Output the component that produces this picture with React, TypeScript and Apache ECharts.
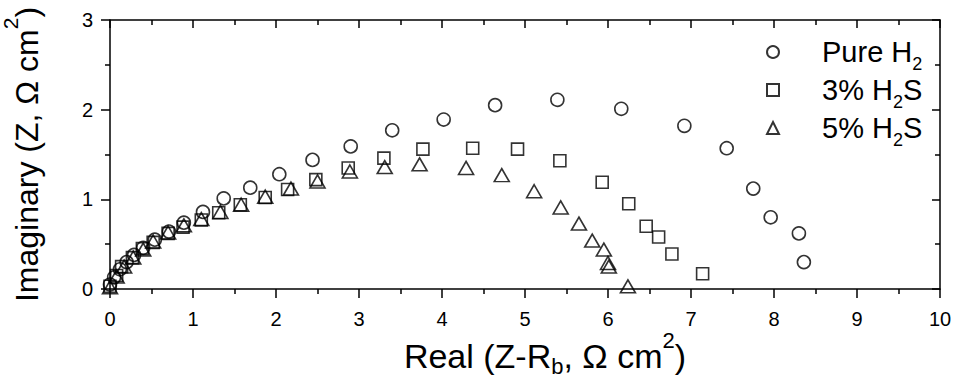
import React, { useEffect, useRef } from "react";
import * as echarts from "echarts";

const pureH2: [number, number][] = [
  [0.0, 0.05], [0.05, 0.13], [0.12, 0.22], [0.2, 0.3], [0.29, 0.38], [0.4, 0.46],
  [0.54, 0.55], [0.71, 0.64], [0.89, 0.74], [1.12, 0.86], [1.37, 1.01], [1.69, 1.13],
  [2.04, 1.28], [2.44, 1.44], [2.9, 1.59], [3.4, 1.77], [4.02, 1.89], [4.64, 2.05],
  [5.39, 2.11], [6.16, 2.01], [6.92, 1.82], [7.43, 1.57], [7.75, 1.12], [7.96, 0.8],
  [8.3, 0.62], [8.36, 0.3],
];
const h2s3: [number, number][] = [
  [0.0, 0.03], [0.08, 0.15], [0.14, 0.25], [0.27, 0.35], [0.39, 0.45], [0.52, 0.52],
  [0.7, 0.62], [0.88, 0.69], [1.1, 0.77], [1.31, 0.85], [1.57, 0.94], [1.87, 1.02],
  [2.14, 1.11], [2.48, 1.22], [2.87, 1.35], [3.3, 1.46], [3.77, 1.56], [4.37, 1.57],
  [4.91, 1.56], [5.42, 1.43], [5.93, 1.19], [6.25, 0.95], [6.46, 0.7], [6.61, 0.58],
  [6.77, 0.39], [7.14, 0.17],
];
const h2s5: [number, number][] = [
  [0.0, 0.02], [0.08, 0.14], [0.17, 0.25], [0.28, 0.35], [0.4, 0.44], [0.52, 0.53],
  [0.7, 0.63], [0.89, 0.71], [1.1, 0.78], [1.33, 0.86], [1.58, 0.94], [1.87, 1.03],
  [2.18, 1.12], [2.5, 1.2], [2.89, 1.31], [3.31, 1.36], [3.73, 1.39], [4.29, 1.35],
  [4.72, 1.27], [5.11, 1.09], [5.43, 0.91], [5.65, 0.73], [5.81, 0.54], [5.95, 0.44],
  [6.0, 0.29], [6.01, 0.25], [6.24, 0.03],
];
const seriesNames = ["Pure H2", "3% H2S", "5% H2S"];
const legendLabels: Record<string, string> = {
  "Pure H2": "{f|Pure H}{s|2}",
  "3% H2S": "{f|3% H}{s|2}{m|S}",
  "5% H2S": "{f|5% H}{s|2}{m|S}",
};
const xName = "{m|Real (Z-R}{sub|b}{m|, Ω cm}{sup|2}{m|)}";
const yName = "{m|Imaginary (Z, Ω cm}{sup|2}{m|)}";

const FONT = "'Liberation Sans', Arial, sans-serif";

export default function App() {
  const ref = useRef<HTMLDivElement>(null);
  useEffect(() => {
    if (!ref.current) return;
    const chart = echarts.init(ref.current, null, { renderer: "svg" });
    const line = { lineStyle: { color: "#000", width: 1.5 } };
    const base = { fontFamily: FONT, color: "#000", verticalAlign: "top" };
    const xRich = {
      m: { ...base, fontSize: 34, padding: [10, 0, 0, 0] },
      sup: { ...base, fontSize: 22, padding: [0, 0, 0, 0] },
      sub: { ...base, fontSize: 22, padding: [26, 0, 0, 0] },
    };
    const yRich = {
      m: { ...base, fontSize: 32, padding: [11, 0, 0, 0] },
      sup: { ...base, fontSize: 21, padding: [0, 0, 0, 0] },
    };
    const mkStyle = (sym: string, size: any, z: number) => ({
      type: "scatter",
      symbol: sym,
      symbolSize: size,
      z,
      itemStyle: { color: "rgba(0,0,0,0)", borderColor: "#000", borderWidth: 1.6 },
      emphasis: { disabled: true },
    });
    chart.setOption({
      animation: false,
      grid: { left: 110, right: 14, top: 20, bottom: 88, containLabel: false, outerBoundsMode: "none" },
      legend: {
        orient: "vertical",
        left: 761,
        top: 32,
        itemWidth: 12,
        itemHeight: 12,
        itemGap: 2,
        data: seriesNames,
        formatter: (n: string) => legendLabels[n],
        textStyle: {
          fontFamily: FONT,
          color: "#000",
          rich: {
            f: { ...base, fontSize: 29, padding: [6, 0, 0, 38] },
            m: { ...base, fontSize: 29, padding: [6, 0, 0, 0] },
            s: { ...base, fontSize: 18, padding: [24, 0, 0, 0] },
          },
        },
      },
      xAxis: [
        {
          type: "value", min: 0, max: 10, interval: 1, position: "bottom",
          axisLine: { show: true, onZero: false, ...line },
          axisTick: { show: true, inside: false, length: 9, ...line },
          minorTick: { show: true, splitNumber: 2, length: 5, ...line },
          splitLine: { show: false },
          axisLabel: { fontSize: 20, fontFamily: FONT, color: "#000", margin: 20 },
          name: xName,
          nameLocation: "middle",
          nameGap: 40,
          nameMoveOverlap: false,
          nameTextStyle: { rich: xRich, padding: [0, 0, 0, 40] },
        },
        {
          type: "value", min: 0, max: 10, interval: 1, position: "top",
          axisLine: { show: true, onZero: false, ...line },
          axisTick: { show: true, inside: true, length: 8, ...line },
          minorTick: { show: true, splitNumber: 2, length: 5, ...line },
          splitLine: { show: false },
          axisLabel: { show: false },
        },
      ],
      yAxis: [
        {
          type: "value", min: 0, max: 3, interval: 1, position: "left",
          axisLine: { show: true, onZero: false, ...line },
          axisTick: { show: true, inside: false, length: 9, ...line },
          minorTick: { show: true, splitNumber: 2, length: 5, ...line },
          splitLine: { show: false },
          axisLabel: { fontSize: 20, fontFamily: FONT, color: "#000", margin: 17 },
          name: yName,
          nameLocation: "middle",
          nameRotate: 90,
          nameGap: 67,
          nameMoveOverlap: false,
          nameTextStyle: { rich: yRich },
        },
        {
          type: "value", min: 0, max: 3, interval: 1, position: "right",
          axisLine: { show: true, onZero: false, ...line },
          axisTick: { show: true, inside: true, length: 8, ...line },
          minorTick: { show: true, splitNumber: 2, length: 5, ...line },
          splitLine: { show: false },
          axisLabel: { show: false },
        },
      ],
      series: [
        { name: seriesNames[0], data: pureH2, ...mkStyle("circle", 13, 2) },
        { name: seriesNames[1], data: h2s3, ...mkStyle("rect", 12, 3) },
        { name: seriesNames[2], data: h2s5, ...mkStyle("triangle", [15, 13], 4) },
      ],
    });
    return () => chart.dispose();
  }, []);
  return <div ref={ref} style={{ position: "absolute", left: 0, top: 0, width: 954, height: 377 }} />;
}
